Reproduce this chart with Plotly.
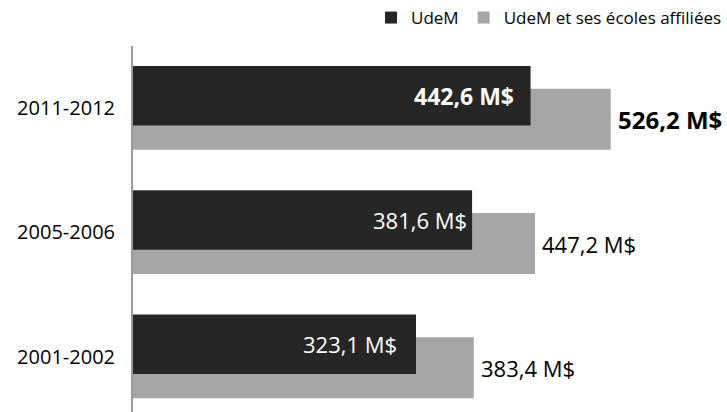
import plotly.graph_objects as go

# Budget figures (millions of dollars) per fiscal year
years = ["2001-2002", "2005-2006", "2011-2012"]
udem = [323.1, 381.6, 442.6]
udem_affiliees = [383.4, 447.2, 526.2]

series_names = ["UdeM", "UdeM et ses écoles affiliées"]

DARK = "#262626"
GREY = "#a6a6a6"
FONT = "Open Sans, Noto Sans, sans-serif"

# bar geometry along the category axis (offset, thickness)
DARK_OFF, DARK_W = -0.14, 0.48
GREY_OFF, GREY_W = -0.335, 0.49


def fmt(v, bold):
    s = f"{v:.1f}".replace(".", ",") + " M$"
    return f"<b>{s}</b>" if bold else s


fig = go.Figure()
fig.add_trace(go.Bar(
    y=years, x=udem_affiliees, orientation="h", name=series_names[1],
    marker=dict(color=GREY, line=dict(width=0)),
    offset=GREY_OFF, width=GREY_W, legendrank=2, hoverinfo="skip",
))
fig.add_trace(go.Bar(
    y=years, x=udem, orientation="h", name=series_names[0],
    marker=dict(color=DARK, line=dict(width=0)),
    offset=DARK_OFF, width=DARK_W, legendrank=1, hoverinfo="skip",
))

last = len(years) - 1
# value labels: inside the dark bars (right aligned), beyond the grey bars
inside_gap = [19, 5, 17]
for i, v in enumerate(udem):
    bold = i == last
    fig.add_annotation(
        x=v, y=i + DARK_OFF + DARK_W / 2, xref="x", yref="y",
        text=fmt(v, bold), showarrow=False, xanchor="right",
        xshift=-inside_gap[i] + 2, yanchor="middle",
        font=dict(family=FONT, size=23 if bold else 22, color="white"),
    )
for i, v in enumerate(udem_affiliees):
    bold = i == last
    fig.add_annotation(
        x=v, y=i + GREY_OFF + GREY_W / 2, xref="x", yref="y",
        text=fmt(v, bold), showarrow=False, xanchor="left",
        xshift=5, yanchor="middle",
        font=dict(family=FONT, size=24 if bold else 22, color="black"),
    )

fig.update_layout(
    width=727, height=412,
    margin=dict(l=133, r=0, t=46, b=0),
    paper_bgcolor="white", plot_bgcolor="white",
    barmode="overlay",
    showlegend=True,
    legend=dict(
        orientation="h", x=1, xanchor="right", xref="container",
        y=1, yanchor="top", yref="container",
        font=dict(family=FONT, size=17, color="black"),
        itemwidth=30, tracegroupgap=0,
    ),
    xaxis=dict(range=[27.9, 647.5], visible=False, fixedrange=True),
    yaxis=dict(
        type="category", categoryorder="array", categoryarray=years,
        range=[-0.4457, 2.5], showgrid=False, zeroline=False,
        showline=True, linecolor="#9a9a9a", linewidth=2,
        ticks="", ticklabelstandoff=12,
        tickfont=dict(family=FONT, size=20, color="black"),
        fixedrange=True,
    ),
)

fig.write_html("out.html")
